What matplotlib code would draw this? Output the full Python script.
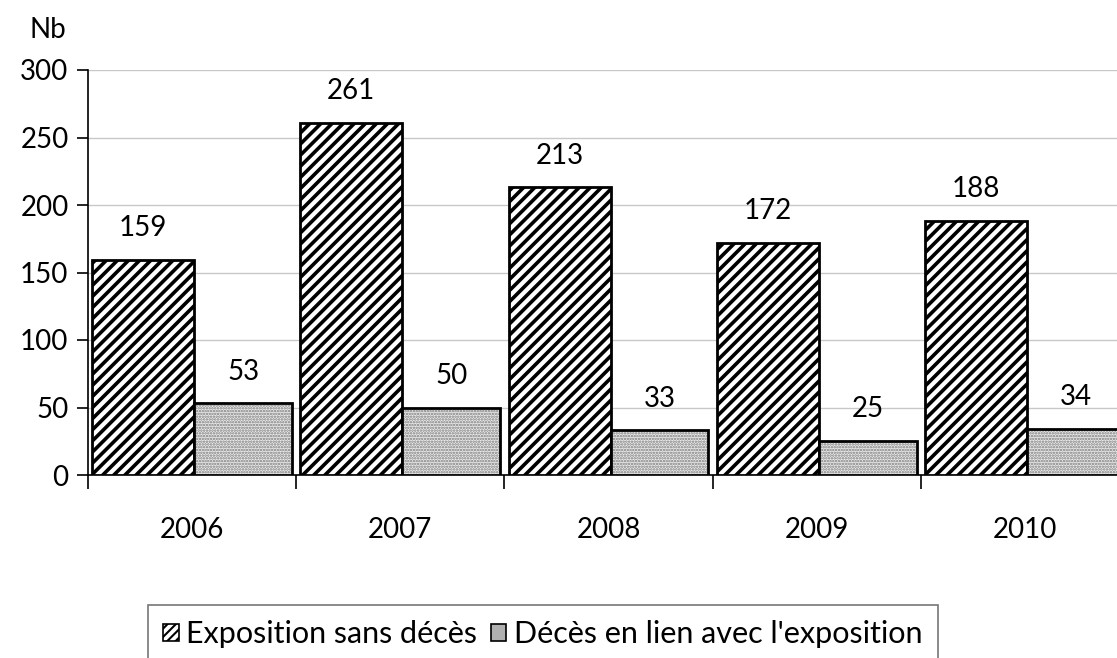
import matplotlib
matplotlib.use("Agg")
import matplotlib.pyplot as plt
from matplotlib.patches import Patch
import numpy as np

years = ["2006", "2007", "2008", "2009", "2010"]
expo_sans_deces = [159, 261, 213, 172, 188]
deces_lien = [53, 50, 33, 25, 34]
series_names = ["Exposition sans décès", "Décès en lien avec l'exposition"]

plt.rcParams['font.family'] = ['Lato', 'DejaVu Sans']
FS = 20

W, H = 1117, 658
fig = plt.figure(figsize=(W/100, H/100), dpi=100)
ax = fig.add_axes([88/W, (H-475)/H, 1041/W, 405/H])

x = np.arange(len(years))
plt.rcParams['hatch.linewidth'] = 2.6
b1 = ax.bar(x + 0.02, expo_sans_deces, width=0.49, align='edge', facecolor='white',
            edgecolor='black', linewidth=2, hatch='///', zorder=3)
plt.rcParams['hatch.linewidth'] = 1.2
ax.bar(x + 0.51, deces_lien, width=0.47, align='edge', facecolor='#ececec',
       edgecolor='#7a7a7a', linewidth=0, hatch='......', zorder=3)
b2 = ax.bar(x + 0.51, deces_lien, width=0.47, align='edge', facecolor='none',
            edgecolor='black', linewidth=2, zorder=4)

for rects, vals in ((b1, expo_sans_deces), (b2, deces_lien)):
    for r, v in zip(rects, vals):
        ax.annotate(str(v), (r.get_x() + r.get_width()/2, v), xytext=(0, 23),
                    textcoords='offset points', ha='center', va='center', fontsize=FS)

ax.set_xlim(0, 5)
ax.set_ylim(0, 300)
ax.set_yticks(range(0, 301, 50))
ax.yaxis.grid(True, color='#c8c8c8', linewidth=1, zorder=0)
ax.set_axisbelow(True)
for s in ['top', 'right']:
    ax.spines[s].set_visible(False)
ax.spines['left'].set_linewidth(1.2)
ax.spines['bottom'].set_linewidth(1.2)

ax.set_xticks(x + 0.5)
ax.set_xticklabels(years, fontsize=FS)
ax.tick_params(axis='x', which='major', length=0, pad=30)
ax.set_xticks(np.arange(0, 5), minor=True)
ax.tick_params(axis='x', which='minor', length=10, width=1.2, direction='out')
ax.tick_params(axis='y', length=8, width=1.2, labelsize=FS, pad=6)

fig.text(48/W, 1 - 30/H, "Nb", fontsize=FS, ha='center', va='center')

plt.rcParams['hatch.linewidth'] = 1.5
h1 = Patch(facecolor='white', edgecolor='black', hatch='////', linewidth=1.2)
h2 = Patch(facecolor='#b0b0b0', edgecolor='black', linewidth=1.2)
leg = fig.legend([h1, h2], series_names, loc='upper left',
                 bbox_to_anchor=(148/W, 1 - 605/H), ncol=2, fontsize=22, frameon=True,
                 fancybox=False, edgecolor='#555555', handlelength=0.5, handleheight=0.5,
                 handletextpad=0.25, columnspacing=0.45, borderpad=0.5, borderaxespad=0)
leg.get_frame().set_linewidth(1.2)

fig.savefig("out.png", dpi=100)
